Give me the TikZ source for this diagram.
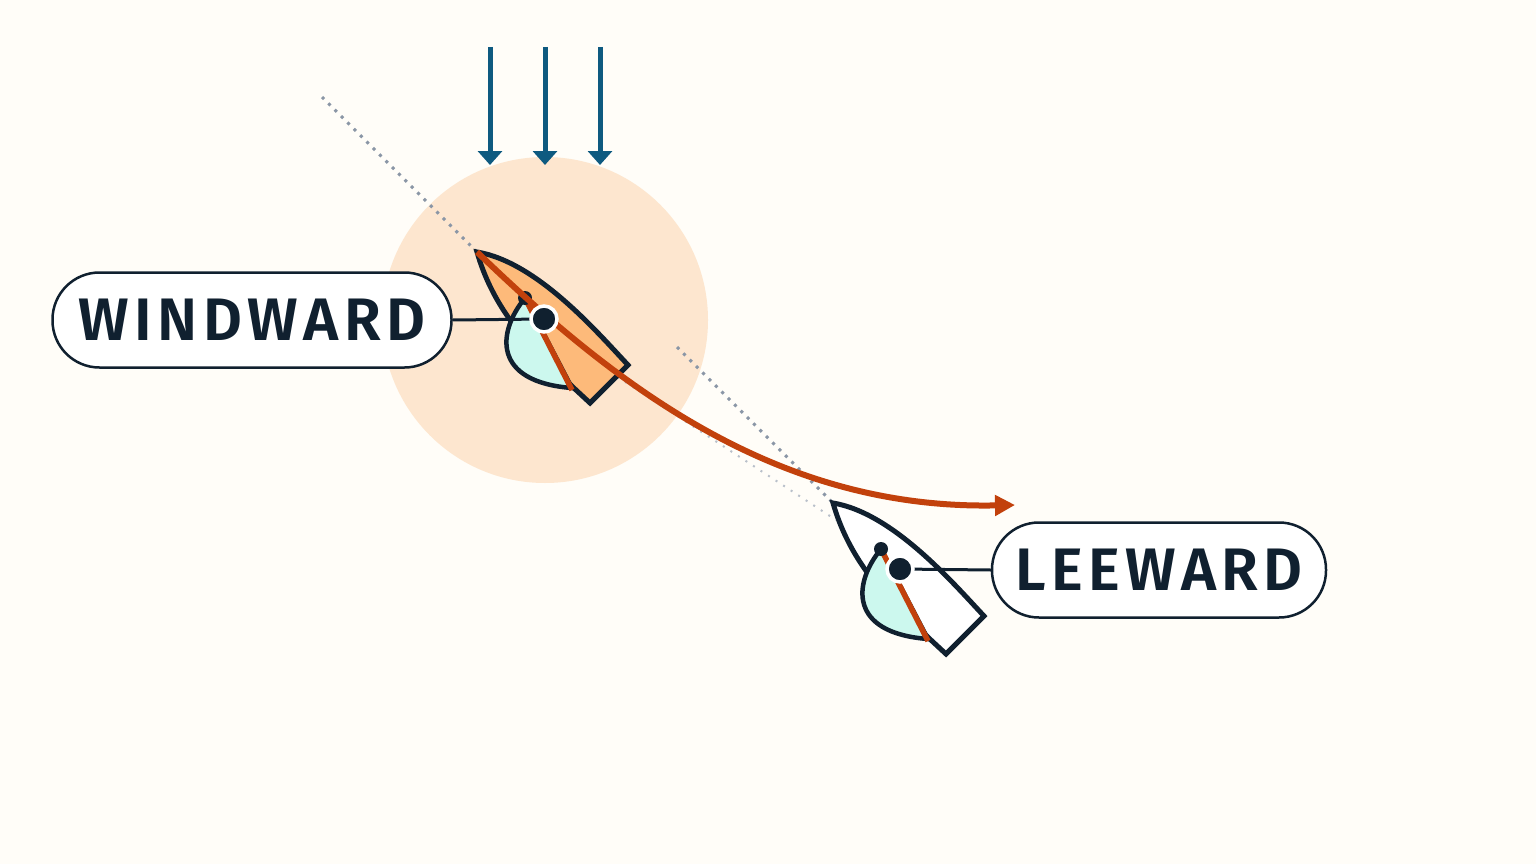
\documentclass[tikz,border=0pt]{standalone}
\usepackage{fontspec}
\setmainfont{Fira Sans}
\newfontfamily\labelfont[LetterSpace=9]{Fira Sans SemiBold}
\usetikzlibrary{arrows.meta}
\definecolor{ink}{HTML}{10202F}
\definecolor{bg}{HTML}{FFFDF8}
\definecolor{halo}{HTML}{FDE6CF}
\definecolor{wind}{HTML}{0E5A80}
\definecolor{rust}{HTML}{C2410C}
\definecolor{hullor}{HTML}{FDBA7A}
\definecolor{sailc}{HTML}{CCF8EE}
\definecolor{guidec}{HTML}{8A96A6}
\tikzset{
  label box/.style={draw=ink, line width=2.5pt, fill=white, rounded corners=47pt,
    minimum height=95pt, text=ink,
    font=\fontsize{60}{62}\labelfont},
  hull/.style={draw=ink, line width=5pt, line join=miter},
  sail/.style={draw=ink, line width=4.5pt, fill=sailc},
  boom/.style={draw=rust, line width=5.5pt},
  wind arrow/.style={draw=wind, line width=5pt, -{Triangle[length=14pt,width=24pt]}},
  guide/.style={draw=guidec, line width=3pt, dash pattern=on 3pt off 6pt},
}
\newcommand{\boat}[2]{%
  \begin{scope}[shift={#1}]
    \path[hull, fill=#2] (0,0) .. controls (60,10) and (120,80) .. (151,113) -- (113,151) -- (99,138)
      .. controls (70,110) and (20,70) .. cycle;
    \path[sail] (48,46) .. controls (20,80) and (15,130) .. (95,136) -- cycle;
    \path[boom] (48,46) -- (95,138);
    \fill[ink] (48,46) circle (7);
  \end{scope}}
\begin{document}
\begin{tikzpicture}[x=1pt,y=-1pt]
\useasboundingbox[fill=bg] (0,0) rectangle (1536,864);
\fill[halo] (545,320) circle (163);
% wind
\foreach \x in {490,545,600} \draw[wind arrow] (\x,47) -- (\x,165);
% guides
\draw[guide] (322,97) -- (477,252);
\draw[guide] (677,347) -- (833,503);
\draw[guidec!60, line width=2pt, dash pattern=on 2pt off 7pt] (610,372) -- (836,520);
% boats
\boat{(477,252)}{hullor}
\boat{(833,503)}{white}
\draw[rust, line width=6pt, -{Triangle[length=20pt,width=20pt]}] (477,252) .. controls (620,390) and (780,510) .. (1015,505);
\coordinate (wc) at (544,319);
\coordinate (lc) at (900,569);
\node[label box, minimum width=399pt] (windward) at (252,320) {WINDWARD};
\node[label box, minimum width=334pt] (leeward) at (1159,570) {LEEWARD};
\draw[ink, line width=3pt] (windward.east) -- (wc);
\draw[ink, line width=3pt] (leeward.west) -- (lc);
\filldraw[ink, draw=white, line width=3.5pt] (wc) circle (13);
\filldraw[ink, draw=white, line width=3.5pt] (lc) circle (13);
\end{tikzpicture}
\end{document}
